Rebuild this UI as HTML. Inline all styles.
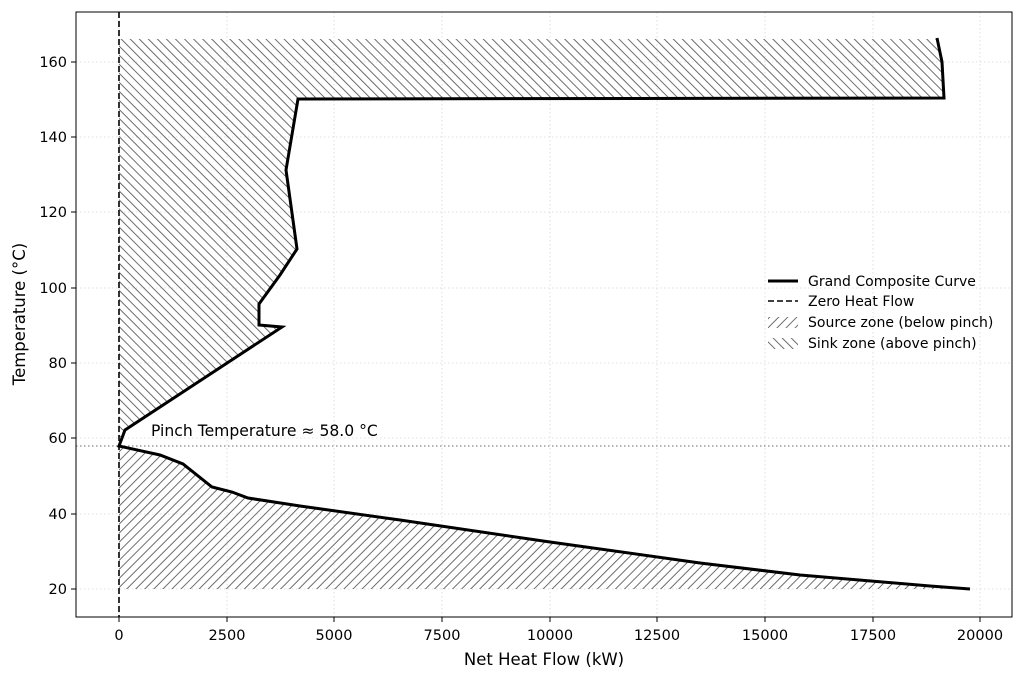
<!DOCTYPE html>
<html><head><meta charset="utf-8"><style>body{margin:0;background:#fff}svg{display:block}text{font-family:"DejaVu Sans","Liberation Sans",sans-serif}</style></head>
<body>
<svg width="1024" height="678" viewBox="0 0 1024 678" xmlns="http://www.w3.org/2000/svg">
<defs>
<pattern id="sink" patternUnits="userSpaceOnUse" width="6.4" height="6.4" patternTransform="rotate(-45)">
<line x1="0" y1="0" x2="0" y2="6.4" stroke="#666" stroke-width="1.9"/></pattern>
<pattern id="src" patternUnits="userSpaceOnUse" width="6.4" height="6.4" patternTransform="rotate(45)">
<line x1="0" y1="0" x2="0" y2="6.4" stroke="#666" stroke-width="1.9"/></pattern>
<clipPath id="c"><rect x="76" y="12" width="936" height="605"/></clipPath>
</defs>
<rect width="1024" height="678" fill="#fff"/>
<g stroke="#d8d8d8" stroke-width="0.8" stroke-dasharray="1.5,2.5">
<line x1="119" y1="12" x2="119" y2="617"/><line x1="227" y1="12" x2="227" y2="617"/><line x1="334" y1="12" x2="334" y2="617"/><line x1="442" y1="12" x2="442" y2="617"/><line x1="550" y1="12" x2="550" y2="617"/><line x1="657" y1="12" x2="657" y2="617"/><line x1="765" y1="12" x2="765" y2="617"/><line x1="873" y1="12" x2="873" y2="617"/><line x1="980" y1="12" x2="980" y2="617"/>
<line x1="76" y1="62" x2="1012" y2="62"/><line x1="76" y1="137" x2="1012" y2="137"/><line x1="76" y1="212" x2="1012" y2="212"/><line x1="76" y1="288" x2="1012" y2="288"/><line x1="76" y1="363" x2="1012" y2="363"/><line x1="76" y1="438" x2="1012" y2="438"/><line x1="76" y1="514" x2="1012" y2="514"/><line x1="76" y1="589" x2="1012" y2="589"/>
</g>
<g clip-path="url(#c)">
<polygon fill="url(#sink)" points="119,39 937,39 942,62 944,98 298,99 286,170 297,249 280,275 259,304 259,325 282,327 125,430 119,446"/>
<polygon fill="url(#src)" points="119,446 160,455 183,464 212,487 232,492 248,498 300,506 400,520 550,542 700,563 800,575 930,586 970,589 119,589"/>
</g>
<line x1="76" y1="446" x2="1012" y2="446" stroke="#888" stroke-width="1.3" stroke-dasharray="1.5,2.5"/>
<line x1="119" y1="12" x2="119" y2="617" stroke="#000" stroke-width="1.6" stroke-dasharray="6,3"/>
<polyline fill="none" stroke="#000" stroke-width="3" stroke-linejoin="miter" points="937,38 942,62 944,98 298,99 286,170 297,249 280,275 259,304 259,325 282,327 125,430 119,446 160,455 183,464 212,487 232,492 248,498 300,506 400,520 550,542 700,563 800,575 930,586 970,589"/>
<text x="151" y="436" font-size="15.6">Pinch Temperature ≈ 58.0 °C</text>
<rect x="76" y="12" width="936" height="605" fill="none" stroke="#000" stroke-width="1"/>
<g stroke="#000" stroke-width="1">
<line x1="119" y1="617" x2="119" y2="622"/><line x1="227" y1="617" x2="227" y2="622"/><line x1="334" y1="617" x2="334" y2="622"/><line x1="442" y1="617" x2="442" y2="622"/><line x1="550" y1="617" x2="550" y2="622"/><line x1="657" y1="617" x2="657" y2="622"/><line x1="765" y1="617" x2="765" y2="622"/><line x1="873" y1="617" x2="873" y2="622"/><line x1="980" y1="617" x2="980" y2="622"/>
<line x1="71" y1="62" x2="76" y2="62"/><line x1="71" y1="137" x2="76" y2="137"/><line x1="71" y1="212" x2="76" y2="212"/><line x1="71" y1="288" x2="76" y2="288"/><line x1="71" y1="363" x2="76" y2="363"/><line x1="71" y1="438" x2="76" y2="438"/><line x1="71" y1="514" x2="76" y2="514"/><line x1="71" y1="589" x2="76" y2="589"/>
</g>
<g font-size="14.5" text-anchor="middle">
<text x="119" y="640">0</text><text x="227" y="640">2500</text><text x="334" y="640">5000</text><text x="442" y="640">7500</text><text x="550" y="640">10000</text><text x="657" y="640">12500</text><text x="765" y="640">15000</text><text x="873" y="640">17500</text><text x="980" y="640">20000</text>
</g>
<g font-size="14.5" text-anchor="end">
<text x="67" y="67">160</text><text x="67" y="142">140</text><text x="67" y="217">120</text><text x="67" y="293">100</text><text x="67" y="368">80</text><text x="67" y="443">60</text><text x="67" y="519">40</text><text x="67" y="594">20</text>
</g>
<text x="544" y="665" font-size="16.5" text-anchor="middle">Net Heat Flow (kW)</text>
<text transform="translate(25,314) rotate(-90)" font-size="16.5" text-anchor="middle">Temperature (°C)</text>
<line x1="768" y1="281" x2="798" y2="281" stroke="#000" stroke-width="3"/>
<line x1="768" y1="301" x2="798" y2="301" stroke="#000" stroke-width="1.6" stroke-dasharray="6,3"/>
<rect x="768" y="317" width="30" height="11" fill="url(#src)"/>
<rect x="768" y="338" width="30" height="11" fill="url(#sink)"/>
<g font-size="14">
<text x="808" y="286">Grand Composite Curve</text>
<text x="808" y="306">Zero Heat Flow</text>
<text x="808" y="327">Source zone (below pinch)</text>
<text x="808" y="348">Sink zone (above pinch)</text>
</g>
</svg>
</body></html>
